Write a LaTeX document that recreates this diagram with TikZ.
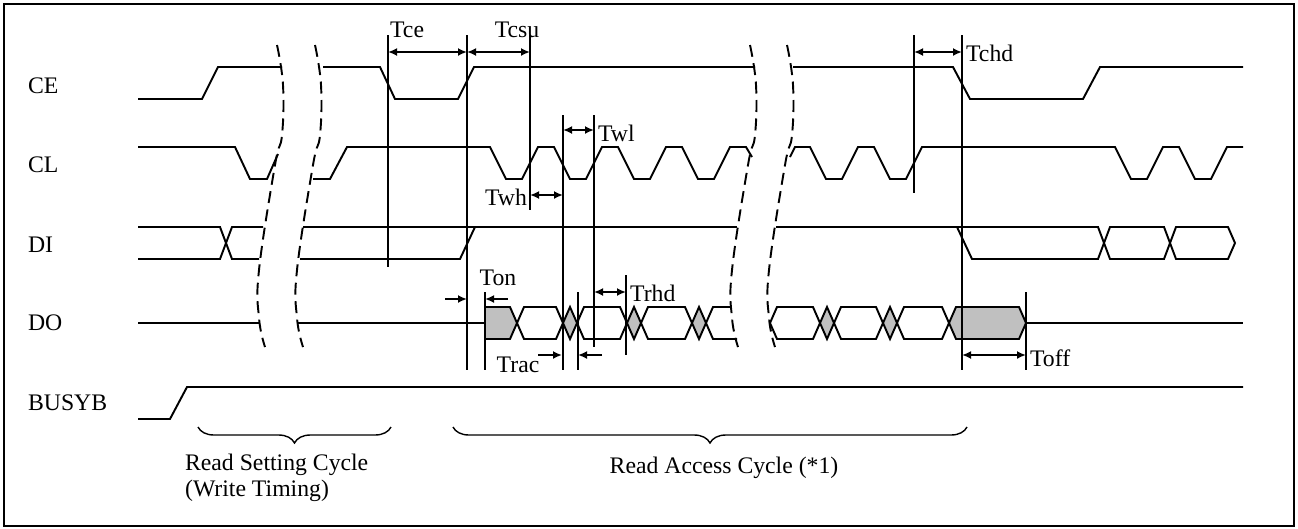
\documentclass[tikz,border=0pt]{standalone}
\usepackage{fontspec}
\setmainfont{Liberation Serif}
\usetikzlibrary{arrows.meta,decorations.pathreplacing}

\begin{document}
\begin{tikzpicture}[x=0.02cm, y=-0.02cm,
    wave/.style={line width=1.1pt},
    marker/.style={line width=1.1pt},
    dim/.style={line width=1.1pt, <->, >={Latex[length=1.8mm,width=1.6mm]}},
    push/.style={line width=1.1pt, ->, >={Latex[length=1.8mm,width=1.6mm]}},
    breakdash/.style={line width=1.1pt, dash pattern=on 0.24cm off 0.13cm},
    cycbrace/.style={line width=0.8pt, decorate, decoration={brace, mirror, amplitude=0.32cm}},
    lbl/.style={font=\fontsize{13.5}{14.7}\selectfont, inner sep=1pt}]
        \definecolor{cellgray}{RGB}{192, 192, 192}
    \useasboundingbox (0,0) rectangle (1298,528);
    \draw[line width=1.1pt] (4,4) rectangle (1294,526);

    % signal names
    \node[lbl, anchor=west] (ce) at (26,86) {CE};
    \node[lbl, anchor=west] (cl) at (26,165) {CL};
    \node[lbl, anchor=west] (di) at (26,245) {DI};
    \node[lbl, anchor=west] (do) at (26,323) {DO};
    \node[lbl, anchor=west] (busyb) at (26,403) {BUSYB};

    % CE
    \draw[wave] (138,99) -- (202,99) -- (218,67) -- (282,67);
    \draw[wave] (323,67) -- (380,67) -- (395,99) -- (458,99) -- (474,67) -- (755,67);
    \draw[wave] (793,67) -- (953,67) -- (970,99) -- (1083,99) -- (1100,67) -- (1243,67);

    % CL
    \draw[wave] (138,147) -- (235,147) -- (250,179) -- (267,179) -- (278,154);
    \draw[wave] (313,179) -- (330,179) -- (347,147) -- (490,147)
        -- (506,179) -- (522,179) -- (538,147) -- (554,147)
        -- (570,179) -- (586,179) -- (602,147) -- (618,147)
        -- (634,179) -- (650,179) -- (666,147) -- (682,147)
        -- (698,179) -- (714,179) -- (730,147) -- (746,147) -- (752,157);
    \draw[wave] (790,157) -- (795,147) -- (810,147)
        -- (826,179) -- (842,179) -- (858,147) -- (874,147)
        -- (890,179) -- (906,179) -- (922,147) -- (1115,147)
        -- (1131,179) -- (1147,179) -- (1163,147) -- (1179,147)
        -- (1195,179) -- (1211,179) -- (1227,147) -- (1243,147);

    % DI
    \draw[wave] (138,227) -- (220,227) -- (232,259) -- (259,259);
    \draw[wave] (138,259) -- (220,259) -- (232,227) -- (263,227);
    \draw[wave] (303,227) -- (737,227);
    \draw[wave] (300,259) -- (460,259) -- (475,227);
    \draw[wave] (776,227) -- (1098,227) -- (1104,243);
    \draw[wave] (957,227) -- (972,259) -- (1098,259) -- (1104,243);
    \draw[wave] (1104,243) -- (1110,227) -- (1164,227) -- (1170,243) -- (1164,259) -- (1110,259) -- cycle;
    \draw[wave] (1170,243) -- (1176,227) -- (1228,227) -- (1235,243) -- (1228,259) -- (1176,259) -- cycle;

    % DO
    \draw[wave] (138,323) -- (260,323);
    \draw[wave] (298,323) -- (485,323);
    \filldraw[wave, fill=cellgray] (485,307) -- (510,307) -- (517,323) -- (510,339) -- (485,339) -- cycle;
    \foreach \a/\b in {517/563, 577/627, 641/692, 770/820, 834/883, 897/949}
        \draw[wave] (\a,323) -- (\a+7,307) -- (\b-7,307) -- (\b,323) -- (\b-7,339) -- (\a+7,339) -- cycle;
    \foreach \a in {563, 627, 692, 820, 883}
        \filldraw[wave, fill=cellgray] (\a,323) -- (\a+7,307) -- (\a+14,323) -- (\a+7,339) -- cycle;
    \draw[wave] (730,307) -- (713,307) -- (706,323) -- (713,339) -- (737,339);
    \filldraw[wave, fill=cellgray] (949,323) -- (956,307) -- (1019,307) -- (1026,323) -- (1019,339) -- (956,339) -- cycle;
    \draw[wave] (1026,323) -- (1243,323);

    % BUSYB
    \draw[wave] (138,419) -- (170,419) -- (187,387) -- (1243,387);

    % breaks
    \foreach \bx in {277,315,750,787}
        \draw[breakdash] plot[smooth, tension=0.7] coordinates {(\bx,45) (\bx+6,85) (\bx+5,135) (\bx-2,165) (\bx-18,270) (\bx-18,318) (\bx-12,347)};

    % timing marks
    \draw[marker] (388,35) -- (388,267);
    \draw[marker] (467,35) -- (467,370);
    \draw[marker] (530,35) -- (530,210);
    \draw[marker] (563,115) -- (563,370);
    \draw[marker] (594,115) -- (594,347);
    \draw[marker] (485,292) -- (485,370);
    \draw[marker] (578,292) -- (578,370);
    \draw[marker] (626,275) -- (626,355);
    \draw[marker] (914,35) -- (914,193);
    \draw[marker] (962,35) -- (962,370);
    \draw[marker] (1026,292) -- (1026,370);

    \coordinate (tceA) at (388,52);
    \coordinate (tceB) at (467,52);
    \coordinate (tcsuB) at (530,52);
    \coordinate (twhA) at (530,195);
    \coordinate (twhB) at (563,195);
    \coordinate (twlA) at (563,130);
    \coordinate (twlB) at (594,130);
    \coordinate (trhdA) at (594,292);
    \coordinate (trhdB) at (626,292);
    \coordinate (tchdA) at (914,52);
    \coordinate (tchdB) at (962,52);
    \coordinate (toffA) at (962,355);
    \coordinate (toffB) at (1026,355);
    \coordinate (tonA) at (467,299);
    \coordinate (tonB) at (485,299);
    \coordinate (tonL) at (445,299);
    \coordinate (tonR) at (508,299);
    \coordinate (tracA) at (562,355);
    \coordinate (tracB) at (578,355);
    \coordinate (tracL) at (538,355);
    \coordinate (tracR) at (602,355);

    \draw[dim] (tceA) -- (tceB);
    \draw[dim] (tceB) -- (tcsuB);
    \draw[dim] (twhA) -- (twhB);
    \draw[dim] (twlA) -- (twlB);
    \draw[dim] (trhdA) -- (trhdB);
    \draw[dim] (tchdA) -- (tchdB);
    \draw[dim] (toffA) -- (toffB);
    \draw[push] (tonL) -- (tonA);
    \draw[push] (tonR) -- (tonB);
    \draw[push] (tracL) -- (tracA);
    \draw[push] (tracR) -- (tracB);

    \node[lbl, anchor=west] (tce) at (388,30) {Tce};
    \node[lbl] (tcsu) at (517,30) {Tcsu};
    \node[lbl, anchor=west] (tchd) at (964,53) {Tchd};
    \node[lbl, anchor=west] (twl) at (596,133) {Twl};
    \node[lbl, anchor=east] (twh) at (529,197) {Twh};
    \node[lbl, anchor=west] (trhd) at (628,293) {Trhd};
    \node[lbl, anchor=west] (toff) at (1028,358) {Toff};
    \node[lbl] (ton) at (498,278) {Ton};
    \node[lbl] (trac) at (518,365) {Trac};

    % cycles
    \draw[cycbrace] (198,427) -- (391,427);
    \draw[cycbrace] (453,427) -- (967,427);
    \node[lbl, anchor=north west, align=left] (setcyc) at (183,452) {Read Setting Cycle\\(Write Timing)};
    \node[lbl] (acccyc) at (724,468) {Read Access Cycle (*1)};
\end{tikzpicture}
\end{document}
